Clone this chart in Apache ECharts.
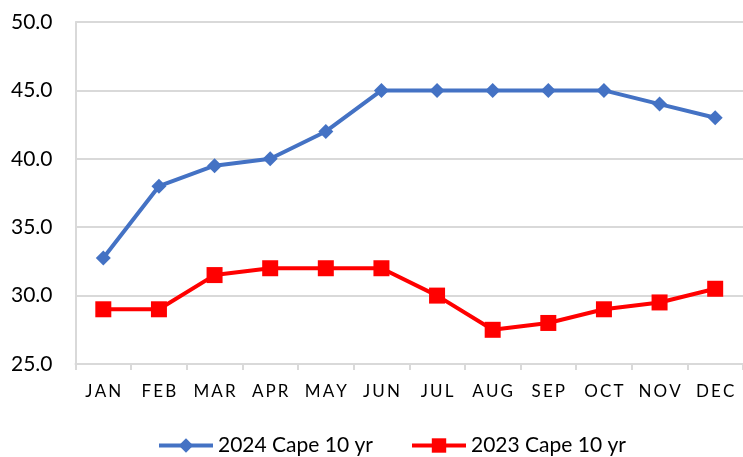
<!DOCTYPE html>
<html>
<head>
<meta charset="utf-8">
<script src="https://cdn.jsdelivr.net/npm/echarts@6/dist/echarts.min.js"></script>
<style>
  html, body { margin: 0; padding: 0; background: #fff; }
  #chart { width: 743px; height: 457px; }
</style>
</head>
<body>
<div id="chart"></div>
<script>
const months = ['JAN', 'FEB', 'MAR', 'APR', 'MAY', 'JUN', 'JUL', 'AUG', 'SEP', 'OCT', 'NOV', 'DEC'];
const cape2024 = [32.75, 38, 39.5, 40, 42, 45, 45, 45, 45, 45, 44, 43];
const cape2023 = [29, 29, 31.5, 32, 32, 32, 30, 27.5, 28, 29, 29.5, 30.5];

const chart = echarts.init(document.getElementById('chart'));
const font = 'Lato, "Open Sans", sans-serif';

chart.setOption({
  animation: false,
  textStyle: { fontFamily: font },
  legend: {
    top: 430,
    left: 152,
    itemWidth: 54,
    itemHeight: 18,
    itemGap: 37,
    lineStyle: { width: 4 },
    textStyle: { fontSize: 21, color: '#000', fontFamily: font },
    data: ['2024 Cape 10 yr', '2023 Cape 10 yr'],
  },
  grid: {
    left: 75.5,
    top: 22,
    width: 674,
    height: 342,
    containLabel: false,
  },
  xAxis: {
    type: 'category',
    data: months,
    boundaryGap: true,
    axisLine: { lineStyle: { color: '#D9D9D9', width: 2 } },
    axisTick: { show: true, length: 6, lineStyle: { color: '#D9D9D9', width: 2 } },
    axisLabel: {
      interval: 0,
      color: '#000',
      fontSize: 17,
      margin: 19,
      fontFamily: font,
      formatter: (v) => v.split('').join('\u2009'),
    },
  },
  yAxis: {
    type: 'value',
    min: 25,
    max: 50,
    interval: 5,
    axisLine: { show: true, lineStyle: { color: '#D9D9D9', width: 2 } },
    axisTick: { show: false },
    splitLine: { lineStyle: { color: '#D9D9D9', width: 2 } },
    axisLabel: {
      color: '#000',
      fontSize: 21,
      margin: 23,
      fontFamily: font,
      formatter: (v) => v.toFixed(1),
    },
  },
  series: [
    {
      name: '2024 Cape 10 yr',
      type: 'line',
      data: cape2024,
      symbol: 'diamond',
      symbolSize: 15,
      lineStyle: { color: '#4472C4', width: 4 },
      itemStyle: { color: '#4472C4' },
    },
    {
      name: '2023 Cape 10 yr',
      type: 'line',
      data: cape2023,
      symbol: 'rect',
      symbolSize: 16,
      lineStyle: { color: '#FF0000', width: 4 },
      itemStyle: { color: '#FF0000' },
    },
  ],
});
</script>
</body>
</html>
